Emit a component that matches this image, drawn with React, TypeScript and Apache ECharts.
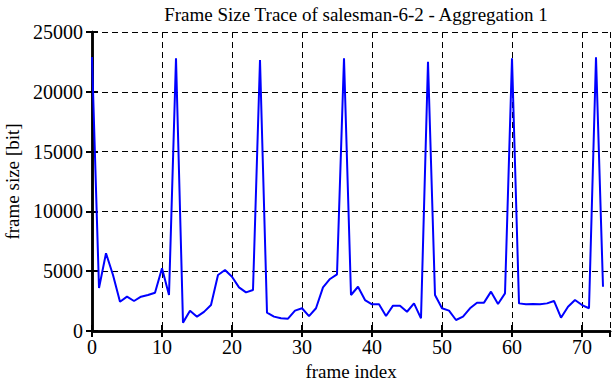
import React, { useEffect, useRef } from "react";
import * as echarts from "echarts";

const frameIndex: number[] = Array.from({ length: 74 }, (_, i) => i);
const frameSize: number[] = [
  22900, 3600, 6500, 4680, 2450, 2870, 2510, 2870, 3010, 3200,
  5240, 3010, 22800, 700, 1700, 1200, 1600, 2170, 4680, 5100,
  4540, 3650, 3230, 3430, 22660, 1530, 1200, 1060, 1030, 1700,
  1900, 1250, 1900, 3650, 4350, 4740, 22800, 3010, 3700, 2590,
  2230, 2230, 1250, 2120, 2120, 1610, 2310, 1060, 22520, 3010,
  1900, 1700, 920, 1200, 1900, 2370, 2370, 3290, 2260, 3150,
  22800, 2310, 2230, 2260, 2230, 2310, 2510, 1110, 2030, 2590,
  2170, 1900, 22890, 3700,
];
const titleText = "Frame Size Trace of salesman-6-2 - Aggregation 1";
const xName = "frame index";
const yName = "frame size [bit]";

export default function App() {
  const ref = useRef<HTMLDivElement>(null);
  useEffect(() => {
    if (!ref.current) return;
    const chart = echarts.init(ref.current, null, { renderer: "svg" });
    const font = "Liberation Serif";
    const splitLine = {
      show: true,
      lineStyle: { color: "#000", width: 1, type: [6, 4] as any },
    };
    const axisLine = { show: true, lineStyle: { color: "#000", width: 2.5 } };
    const axisTick = { show: true, inside: true, length: 6, lineStyle: { color: "#000", width: 2 } };
    const fmt = (v: number) => String(v);
    chart.setOption({
      animation: false,
      backgroundColor: "#fff",
      textStyle: { fontFamily: font },
      title: {
        text: titleText,
        left: 351,
        top: 0,
        textAlign: "center",
        textStyle: { fontFamily: font, fontSize: 19, fontWeight: "normal", color: "#000" },
      },
      grid: { left: 92, right: 2, top: 32, bottom: 51, containLabel: false, outerBoundsMode: "none" } as any,
      xAxis: [
        {
          type: "value",
          min: 0,
          max: 74,
          interval: 10,
          name: xName,
          nameLocation: "middle",
          nameGap: 30,
          nameTextStyle: { fontFamily: font, fontSize: 19, color: "#000" },
          axisLine,
          axisTick,
          axisLabel: { fontFamily: font, fontSize: 20, color: "#000", margin: 6, showMaxLabel: false, formatter: fmt },
          splitLine,
        },
        {
          type: "value",
          position: "top",
          min: 0,
          max: 74,
          interval: 10,
          axisLine,
          axisTick,
          axisLabel: { show: false },
          splitLine: { show: false },
        },
      ],
      yAxis: [
        {
          type: "value",
          min: 0,
          max: 25000,
          interval: 5000,
          name: yName,
          nameLocation: "middle",
          nameGap: 70,
          nameTextStyle: { fontFamily: font, fontSize: 19, color: "#000" },
          axisLine,
          axisTick,
          axisLabel: { fontFamily: font, fontSize: 20, color: "#000", margin: 9, formatter: fmt },
          splitLine,
        },
        {
          type: "value",
          position: "right",
          min: 0,
          max: 25000,
          interval: 5000,
          axisLine,
          axisTick,
          axisLabel: { show: false },
          splitLine: { show: false },
        },
      ],
      series: [
        {
          type: "line",
          data: frameIndex.map((x, i) => [x, frameSize[i]]),
          showSymbol: false,
          symbol: "none",
          lineStyle: { color: "#0000ff", width: 2 },
          xAxisIndex: 0,
          yAxisIndex: 0,
        },
      ],
    });
    return () => chart.dispose();
  }, []);
  return <div ref={ref} style={{ width: 612, height: 382, position: "absolute", left: 0, top: 0 }} />;
}
